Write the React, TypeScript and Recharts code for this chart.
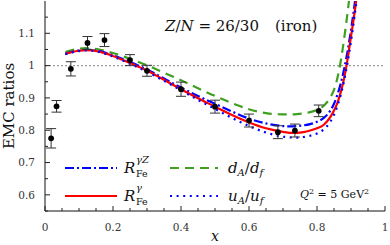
import React from 'react';
import { ComposedChart, Line, Scatter, ErrorBar, XAxis, YAxis, ReferenceLine, Customized } from 'recharts';

const FONT = '"DejaVu Serif", serif';

// theory curves: common x grid
const curveX = [0.06, 0.08, 0.10, 0.12, 0.14, 0.16, 0.18, 0.20, 0.25, 0.30, 0.35, 0.40, 0.45, 0.50, 0.55, 0.60, 0.65, 0.70, 0.72, 0.74, 0.76, 0.78, 0.80, 0.82, 0.84, 0.85, 0.86, 0.87, 0.88, 0.89, 0.90, 0.91, 0.92];
const rGamma = [1.036, 1.042, 1.046, 1.048, 1.047, 1.043, 1.037, 1.030, 1.008, 0.985, 0.956, 0.927, 0.899, 0.873, 0.847, 0.824, 0.806, 0.795, 0.792, 0.792, 0.794, 0.799, 0.806, 0.817, 0.842, 0.861, 0.885, 0.918, 0.962, 1.020, 1.090, 1.160, 1.240];
const rGammaZ = [1.037, 1.043, 1.047, 1.049, 1.048, 1.045, 1.039, 1.032, 1.011, 0.988, 0.960, 0.932, 0.906, 0.882, 0.858, 0.836, 0.821, 0.813, 0.812, 0.813, 0.815, 0.819, 0.826, 0.838, 0.862, 0.882, 0.910, 0.945, 0.990, 1.045, 1.110, 1.185, 1.265];
const dRatio = [1.042, 1.048, 1.052, 1.054, 1.053, 1.050, 1.045, 1.039, 1.021, 1.001, 0.978, 0.955, 0.930, 0.906, 0.884, 0.865, 0.853, 0.849, 0.849, 0.850, 0.852, 0.856, 0.863, 0.876, 0.903, 0.925, 0.962, 1.015, 1.085, 1.165, 1.255, 1.350, 1.450];
const uRatio = [1.035, 1.041, 1.045, 1.047, 1.046, 1.042, 1.036, 1.028, 1.006, 0.981, 0.953, 0.924, 0.894, 0.866, 0.838, 0.813, 0.793, 0.780, 0.778, 0.777, 0.779, 0.783, 0.790, 0.803, 0.828, 0.848, 0.875, 0.910, 0.955, 1.010, 1.075, 1.150, 1.230];

// experimental points
const dataX = [0.018, 0.034, 0.076, 0.125, 0.175, 0.25, 0.30, 0.40, 0.50, 0.60, 0.685, 0.735, 0.805];
const dataY = [0.775, 0.874, 0.990, 1.070, 1.079, 1.017, 0.984, 0.927, 0.873, 0.830, 0.794, 0.799, 0.860];
const dataErr = [0.030, 0.018, 0.022, 0.020, 0.020, 0.017, 0.017, 0.022, 0.020, 0.020, 0.020, 0.020, 0.018];

const xTicks = [0, 0.05, 0.1, 0.15, 0.2, 0.25, 0.3, 0.35, 0.4, 0.45, 0.5, 0.55, 0.6, 0.65, 0.7, 0.75, 0.8, 0.85, 0.9, 0.95, 1];
const yTicks = [0.55, 0.6, 0.65, 0.7, 0.75, 0.8, 0.85, 0.9, 0.95, 1, 1.05, 1.1, 1.15];

const toPts = (ys: number[]) => curveX.map((x, i) => ({ x, y: ys[i] }));
const points = dataX.map((x, i) => ({ x, y: dataY[i], err: dataErr[i] }));

const RED = '#ff0000';
const BLUE = '#0000ff';
const GREEN = '#3f9f1f';
const DASHDOT = '9 3 2 3';
const DASHED = '9 6';
const DOTTED = '2 4.6';

const isMajor = (v: number, step: number) => Math.abs(v / step - Math.round(v / step)) < 1e-6;
const fmt = (v: number) => String(Math.round(v * 100) / 100);

const BottomTick = (p: any) => {
  const v = p.payload.value;
  const major = isMajor(v, 0.2);
  return (
    <g>
      <line x1={p.x} x2={p.x} y1={p.y} y2={p.y - (major ? 5 : 3)} stroke="#222" strokeWidth={1} />
      {major && (
        <text x={p.x} y={p.y + 19.5} textAnchor="middle" fontFamily={FONT} fontSize={10.5} fill="#333">{fmt(v)}</text>
      )}
    </g>
  );
};
const TopTick = (p: any) => {
  const major = isMajor(p.payload.value, 0.2);
  return <line x1={p.x} x2={p.x} y1={p.y} y2={p.y + (major ? 5 : 3)} stroke="#222" strokeWidth={1} />;
};
const LeftTick = (p: any) => {
  const v = p.payload.value;
  const major = isMajor(v, 0.1);
  return (
    <g>
      <line x1={p.x} x2={p.x + (major ? 5 : 3)} y1={p.y} y2={p.y} stroke="#222" strokeWidth={1} />
      {major && (
        <text x={p.x - 10} y={p.y + 3.8} textAnchor="end" fontFamily={FONT} fontSize={10.5} fill="#333">{fmt(v)}</text>
      )}
    </g>
  );
};
const RightTick = (p: any) => {
  const major = isMajor(p.payload.value, 0.1);
  return <line x1={p.x} x2={p.x - (major ? 5 : 3)} y1={p.y} y2={p.y} stroke="#222" strokeWidth={1} />;
};

const Dot = (p: any) => <circle cx={p.cx} cy={p.cy} r={2.9} fill="#000" />;

const Annotations = () => (
  <g fontFamily={FONT} fill="#111">
    <text x={165} y={30.5} fontSize={15}>
      <tspan fontStyle="italic">Z</tspan>/<tspan fontStyle="italic">N</tspan> = 26/30
      <tspan x={275}>(iron)</tspan>
    </text>
    {/* legend row 1 */}
    <line x1={65} x2={117} y1={168} y2={168} stroke={BLUE} strokeWidth={2.2} strokeDasharray={DASHDOT} />
    <text x={124} y={173} fontSize={15} fontStyle="italic">R</text>
    <text x={136} y={177} fontSize={9.5}>Fe</text>
    <text x={136} y={163} fontSize={10} fontStyle="italic">γZ</text>
    <line x1={170} x2={218} y1={168} y2={168} stroke={GREEN} strokeWidth={2.2} strokeDasharray={DASHED} />
    <text x={228} y={173} fontSize={15}>
      <tspan fontStyle="italic">d</tspan>
      <tspan fontSize={10} fontStyle="italic" dy={3}>A</tspan>
      <tspan dy={-3}>/</tspan>
      <tspan fontStyle="italic">d</tspan>
      <tspan fontSize={10} fontStyle="italic" dy={3}>f</tspan>
    </text>
    {/* legend row 2 */}
    <line x1={65} x2={117} y1={196} y2={196} stroke={RED} strokeWidth={2.2} />
    <text x={124} y={201} fontSize={15} fontStyle="italic">R</text>
    <text x={136} y={205} fontSize={9.5}>Fe</text>
    <text x={136} y={191} fontSize={10} fontStyle="italic">γ</text>
    <line x1={170} x2={218} y1={196} y2={196} stroke={BLUE} strokeWidth={2.2} strokeDasharray={DOTTED} />
    <text x={228} y={201} fontSize={15}>
      <tspan fontStyle="italic">u</tspan>
      <tspan fontSize={10} fontStyle="italic" dy={3}>A</tspan>
      <tspan dy={-3}>/</tspan>
      <tspan fontStyle="italic">u</tspan>
      <tspan fontSize={10} fontStyle="italic" dy={3}>f</tspan>
    </text>
    <text x={300} y={198} fontSize={11}>
      <tspan fontStyle="italic">Q</tspan>
      <tspan fontSize={8} dy={-4}>2</tspan>
      <tspan dy={4}> = 5 GeV</tspan>
      <tspan fontSize={8} dy={-4}>2</tspan>
    </text>
  </g>
);

export default function App() {
  return (
    <div style={{ position: 'absolute', left: 0, top: 0, background: '#fff' }}>
      <ComposedChart width={390} height={245} margin={{ top: 1, right: 5, bottom: 0, left: 0 }}>
        <XAxis xAxisId="b" orientation="bottom" type="number" dataKey="x" domain={[0, 1]} ticks={xTicks}
          interval={0} height={34} tickSize={0} tickMargin={0} tickLine={false} tick={BottomTick}
          axisLine={{ stroke: '#111', strokeWidth: 1 }} allowDataOverflow
          label={{ content: () => <text x={215} y={240.5} textAnchor="middle" fontFamily={FONT} fontSize={14} fontStyle="italic" fill="#111">x</text> }} />
        <XAxis xAxisId="t" orientation="top" type="number" dataKey="x" domain={[0, 1]} ticks={xTicks}
          interval={0} height={0} tickSize={0} tickMargin={0} tickLine={false} tick={TopTick}
          axisLine={{ stroke: '#111', strokeWidth: 1 }} allowDataOverflow />
        <YAxis yAxisId="l" orientation="left" type="number" dataKey="y" domain={[0.55, 1.2]} ticks={yTicks}
          interval={0} width={45} tickSize={0} tickMargin={0} tickLine={false} tick={LeftTick}
          axisLine={{ stroke: '#111', strokeWidth: 1 }} allowDataOverflow
          label={{ content: () => <text x={14} y={106} transform="rotate(-90 14 106)" textAnchor="middle" fontFamily={FONT} fontSize={15} fill="#111">EMC ratios</text> }} />
        <YAxis yAxisId="r" orientation="right" type="number" dataKey="y" domain={[0.55, 1.2]} ticks={yTicks}
          interval={0} width={0} tickSize={0} tickMargin={0} tickLine={false} tick={RightTick}
          axisLine={{ stroke: '#111', strokeWidth: 1 }} allowDataOverflow />
        <ReferenceLine xAxisId="b" yAxisId="l" y={1} stroke="#999" strokeWidth={1.2} strokeDasharray="2 2" />
        <Line xAxisId="b" yAxisId="l" data={toPts(dRatio)} dataKey="y" type="monotone" stroke={GREEN} strokeWidth={2.2}
          strokeDasharray={DASHED} dot={false} activeDot={false} isAnimationActive={false} />
        <Line xAxisId="b" yAxisId="l" data={toPts(rGammaZ)} dataKey="y" type="monotone" stroke={BLUE} strokeWidth={2.2}
          strokeDasharray={DASHDOT} dot={false} activeDot={false} isAnimationActive={false} />
        <Line xAxisId="b" yAxisId="l" data={toPts(rGamma)} dataKey="y" type="monotone" stroke={RED} strokeWidth={2.2}
          dot={false} activeDot={false} isAnimationActive={false} />
        <Line xAxisId="b" yAxisId="l" data={toPts(uRatio)} dataKey="y" type="monotone" stroke={BLUE} strokeWidth={2.2}
          strokeDasharray={DOTTED} dot={false} activeDot={false} isAnimationActive={false} />
        <Scatter xAxisId="b" yAxisId="l" data={points} dataKey="y" fill="#000" shape={Dot} isAnimationActive={false}>
          <ErrorBar dataKey="err" direction="y" width={5} stroke="#333" strokeWidth={1} isAnimationActive={false} />
        </Scatter>
        <Customized component={Annotations} />
      </ComposedChart>
    </div>
  );
}
